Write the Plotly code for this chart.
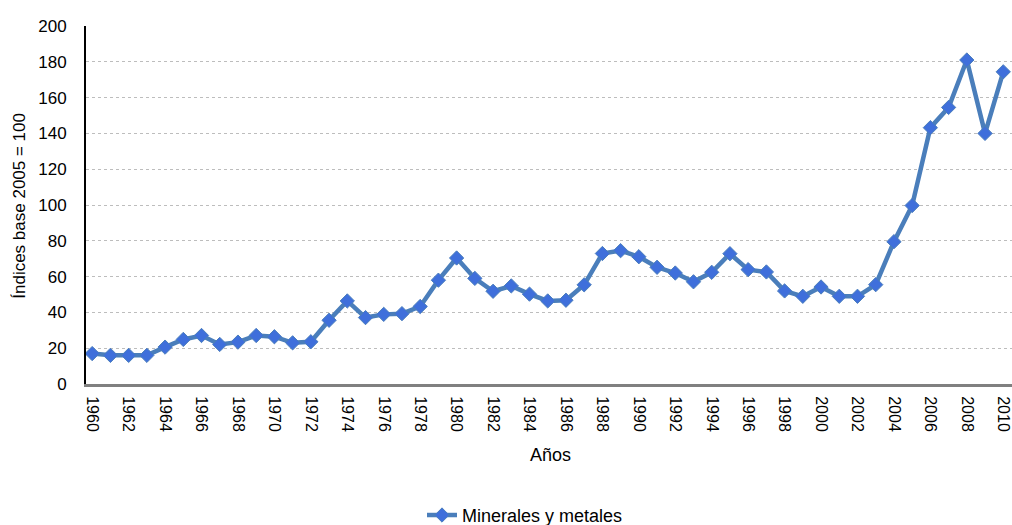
import plotly.graph_objects as go

years = list(range(1960, 2011))
values = [17, 16, 16, 16, 20.6, 24.9, 27.1, 22.1, 23.4, 27.1,
          26.4, 23, 23.6, 35.6, 46.4, 37.1, 38.9, 39.3, 43.3, 58,
          70.4, 59, 51.8, 54.8, 50.2, 46.4, 46.8, 55.4, 72.9, 74.5,
          71.1, 65.2, 62, 57.1, 62.4, 72.8, 63.9, 62.6, 52, 49,
          54.2, 49, 49, 55.5, 79.5, 99.7, 143.2, 154.5, 181, 140,
          174.4]
tick_years = list(range(1960, 2011, 2))
series_name = "Minerales y metales"

FONT = "Liberation Sans, Arial, sans-serif"

fig = go.Figure()
fig.add_trace(go.Scatter(
    x=years, y=values, name=series_name, mode="lines+markers",
    line=dict(color="#4A7EBB", width=4.5),
    marker=dict(symbol="diamond", size=11, color="#3F6FDB",
                line=dict(color="#4A7EBB", width=1)),
))

fig.update_layout(
    width=1012, height=525,
    margin=dict(l=86, r=0, t=26, b=140.5, autoexpand=False),
    paper_bgcolor="white", plot_bgcolor="white",
    font=dict(family=FONT, size=17, color="#000000"),
    showlegend=True,
    legend=dict(orientation="h", x=(525 - 86) / 926, xanchor="center",
                y=-(516 - 384.5) / 358.5, yanchor="middle",
                font=dict(family=FONT, size=18)),
    xaxis=dict(
        range=[1959.66, 2010.48], tickmode="array", tickvals=tick_years,
        ticktext=[str(y) for y in tick_years], tickangle=90,
        showgrid=False, zeroline=False,
        showline=True, linecolor="#808080", linewidth=3,
        ticks="", ticklabelstandoff=6, ticklabeloverflow="allow",
        tickfont=dict(family=FONT, size=16),
    ),
    yaxis=dict(
        range=[0, 200], tickmode="array", tickvals=list(range(0, 201, 20)),
        showgrid=True, gridcolor="#BDBDBD", griddash="dot", gridwidth=1,
        zeroline=False, showline=True, linecolor="#000000", linewidth=2,
        ticks="", ticklabelstandoff=14,
        tickfont=dict(family=FONT, size=17),
    ),
    annotations=[
        dict(text="Índices base 2005 = 100", xref="paper", yref="paper",
             x=(20 - 86) / 926, y=(384.5 - 206) / 358.5, textangle=-90,
             showarrow=False, xanchor="center", yanchor="middle",
             font=dict(family=FONT, size=17)),
        dict(text="Años", xref="paper", yref="paper",
             x=(550 - 86) / 926, y=-(456 - 384.5) / 358.5,
             showarrow=False, xanchor="center", yanchor="middle",
             font=dict(family=FONT, size=18)),
    ],
)

fig.write_html("out.html", config={"displayModeBar": False},
               post_script="document.body.style.margin='0';")
